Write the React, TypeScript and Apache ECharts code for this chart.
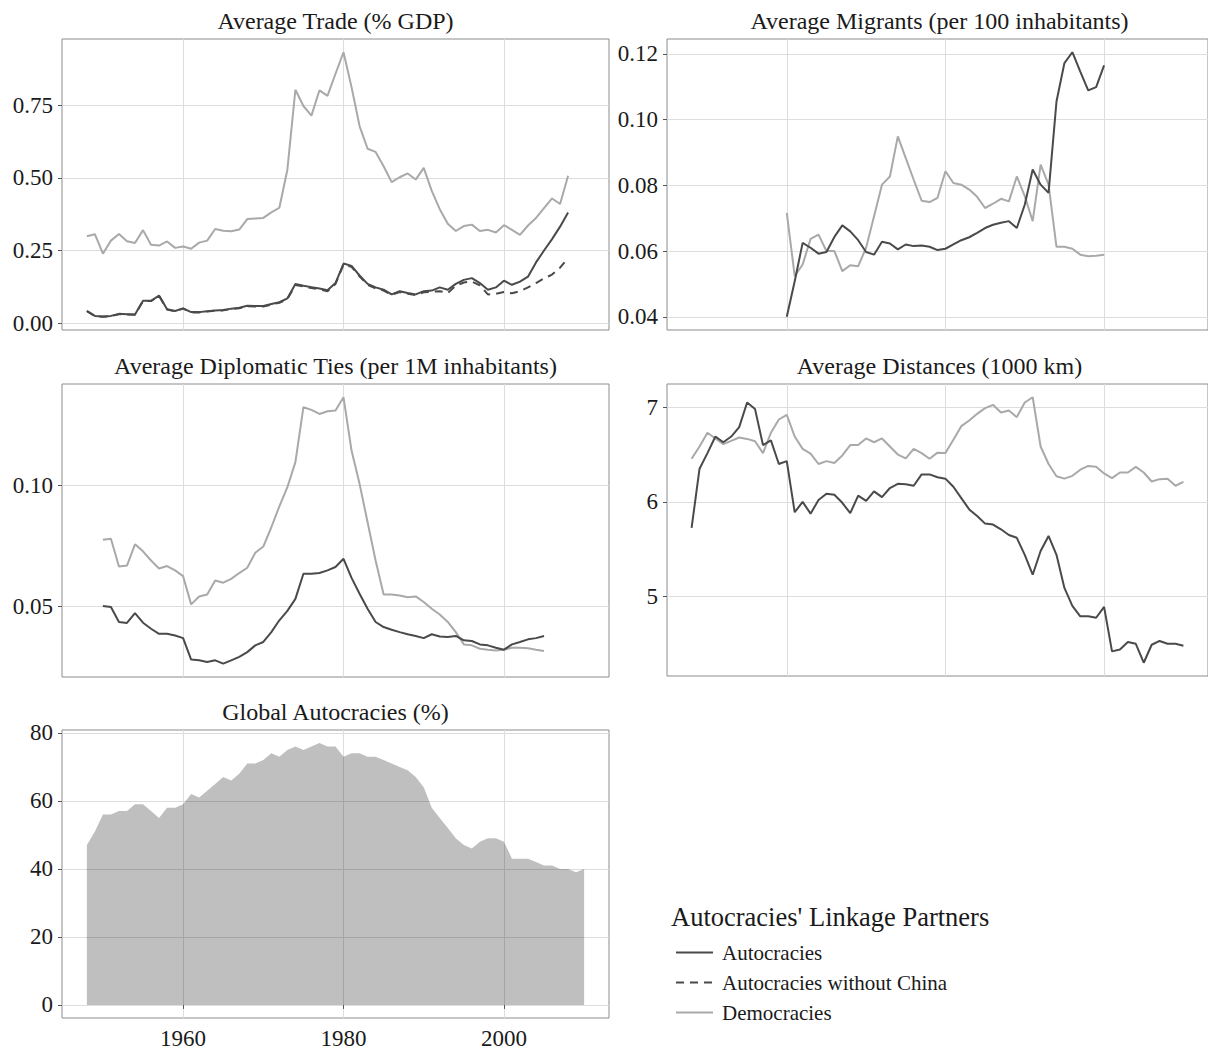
import React, { useEffect, useRef } from "react";
import * as echarts from "echarts";

// ---- data (one value per year, starting at the given year) ----
const tradeStart = 1948;
const tradeDemocracies = [
  0.299, 0.306, 0.239, 0.284, 0.307, 0.282, 0.276, 0.32, 0.27, 0.267,
  0.281, 0.259, 0.264, 0.256, 0.277, 0.284, 0.324, 0.318, 0.316, 0.322,
  0.358, 0.36, 0.362, 0.381, 0.397, 0.528, 0.803, 0.747, 0.714, 0.801,
  0.782, 0.858, 0.932, 0.812, 0.678, 0.6, 0.589, 0.54, 0.485, 0.502,
  0.515, 0.494, 0.534, 0.455, 0.392, 0.342, 0.317, 0.334, 0.339, 0.317,
  0.321, 0.312, 0.337, 0.321, 0.304, 0.336, 0.362, 0.396, 0.429, 0.41,
  0.507,
];
const tradeAutocracies = [
  0.042, 0.025, 0.023, 0.025, 0.032, 0.031, 0.03, 0.077, 0.077, 0.095,
  0.048, 0.042, 0.051, 0.038, 0.038, 0.041, 0.044, 0.045, 0.05, 0.053,
  0.06, 0.059, 0.059, 0.066, 0.072, 0.085, 0.135, 0.129, 0.124, 0.119,
  0.113, 0.138, 0.205, 0.197, 0.164, 0.135, 0.123, 0.115, 0.099, 0.11,
  0.104, 0.099, 0.11, 0.112, 0.123, 0.115, 0.135, 0.149, 0.155, 0.138,
  0.115, 0.123, 0.146, 0.132, 0.143, 0.16, 0.209, 0.25, 0.289, 0.332,
  0.381,
];
const tradeAutocraciesNoChina = [
  0.041, 0.024, 0.022, 0.024, 0.031, 0.03, 0.029, 0.076, 0.076, 0.094,
  0.047, 0.041, 0.05, 0.037, 0.037, 0.04, 0.043, 0.044, 0.048, 0.051,
  0.058, 0.057, 0.057, 0.064, 0.07, 0.083, 0.131, 0.126, 0.121, 0.116,
  0.11, 0.135, 0.201, 0.194, 0.161, 0.132, 0.12, 0.112, 0.097, 0.107,
  0.101, 0.097, 0.106, 0.108, 0.11, 0.104, 0.129, 0.14, 0.143, 0.13,
  0.099, 0.101, 0.107, 0.103, 0.11, 0.123, 0.138, 0.154, 0.167, 0.191,
  0.224,
];

const migrantsStart = 1960;
const migrantsDemocracies = [
  0.0716, 0.0524, 0.0559, 0.0637, 0.065, 0.06, 0.06, 0.0539, 0.0557, 0.0554,
  0.061, 0.0706, 0.0802, 0.0827, 0.0949, 0.0883, 0.0817, 0.0753, 0.0749, 0.0762,
  0.0843, 0.0807, 0.0802, 0.0787, 0.0765, 0.0731, 0.0744, 0.0759, 0.0751, 0.0827,
  0.0767, 0.0691, 0.0863, 0.0802, 0.0613, 0.0613, 0.0607, 0.0589, 0.0584, 0.0586,
  0.0589,
];
const migrantsAutocracies = [
  0.04, 0.0508, 0.0625, 0.061, 0.0592, 0.0597, 0.0643, 0.0678, 0.066, 0.0633,
  0.0597, 0.0589, 0.0628, 0.0623, 0.0605, 0.062, 0.0615, 0.0617, 0.0613, 0.0603,
  0.0607, 0.062, 0.0633, 0.0642, 0.0655, 0.067, 0.068, 0.0686, 0.0691, 0.067,
  0.0741, 0.0848, 0.0802, 0.0777, 0.1055, 0.1172, 0.1205, 0.1146, 0.1089, 0.1099,
  0.1165,
];

const diplomaticStart = 1950;
const diplomaticDemocracies = [
  0.0775, 0.0779, 0.0664, 0.0668, 0.0756, 0.0727, 0.0689, 0.0656, 0.0666, 0.0648,
  0.0624, 0.0507, 0.054, 0.0548, 0.0606, 0.0597, 0.0613, 0.0637, 0.0659, 0.0721,
  0.0747, 0.0827, 0.0914, 0.0993, 0.1097, 0.1325, 0.1314, 0.1297, 0.1308, 0.1311,
  0.1366, 0.1145, 0.1007, 0.0848, 0.0689, 0.0548, 0.0548, 0.0544, 0.0537, 0.054,
  0.0517, 0.0489, 0.0465, 0.0434, 0.0392, 0.0341, 0.0337, 0.0323, 0.0319, 0.0316,
  0.0319, 0.0327, 0.0327, 0.0325, 0.0319, 0.0314,
];
const diplomaticAutocracies = [
  0.05, 0.0496, 0.0434, 0.043, 0.0471, 0.0431, 0.0406, 0.0385, 0.0385, 0.0378,
  0.0367, 0.0278, 0.0275, 0.0268, 0.0275, 0.0261, 0.0275, 0.0289, 0.0309, 0.0337,
  0.0351, 0.0392, 0.0441, 0.048, 0.053, 0.0634, 0.0634, 0.0637, 0.0648, 0.0662,
  0.0696, 0.0617, 0.0551, 0.0489, 0.0434, 0.0413, 0.0402, 0.0392, 0.0383, 0.0376,
  0.0367, 0.0383, 0.0374, 0.0372, 0.0376, 0.0358, 0.0355, 0.0341, 0.0337, 0.0327,
  0.0319, 0.0341, 0.0351, 0.0362, 0.0367, 0.0376,
];

const distanceStart = 1948;
const distanceDemocracies = [
  6.455, 6.585, 6.73, 6.67, 6.61, 6.645, 6.68, 6.665, 6.64, 6.515,
  6.73, 6.87, 6.92, 6.69, 6.56, 6.51, 6.4, 6.43, 6.41, 6.49,
  6.6, 6.6, 6.67, 6.63, 6.67, 6.585, 6.5, 6.46, 6.56, 6.515,
  6.455, 6.52, 6.515, 6.655, 6.8, 6.86, 6.93, 6.99, 7.025, 6.945,
  6.965, 6.895, 7.05, 7.105, 6.585, 6.4, 6.27, 6.245, 6.275, 6.34,
  6.38, 6.37, 6.3, 6.25, 6.31, 6.31, 6.37, 6.31, 6.215, 6.24,
  6.245, 6.17, 6.21,
];
const distanceAutocracies = [
  5.724, 6.35, 6.515, 6.69, 6.63, 6.69, 6.79, 7.05, 6.98, 6.6,
  6.65, 6.4, 6.43, 5.89, 6.0, 5.875, 6.02, 6.085, 6.075, 5.99,
  5.88, 6.065, 6.01, 6.11, 6.05, 6.146, 6.19, 6.185, 6.17, 6.29,
  6.29, 6.26, 6.245, 6.16, 6.04, 5.92, 5.85, 5.77, 5.76, 5.71,
  5.65, 5.62, 5.44, 5.23, 5.48, 5.64, 5.44, 5.09, 4.9, 4.79,
  4.79, 4.775, 4.89, 4.42, 4.44, 4.52, 4.5, 4.3, 4.49, 4.53,
  4.5, 4.5, 4.48,
];

const autocracyShareStart = 1948;
const autocracyShare = [
  47, 51, 56, 56, 57, 57, 59, 59, 57, 55,
  58, 58, 59, 62, 61, 63, 65, 67, 66, 68,
  71, 71, 72, 74, 73, 75, 76, 75, 76, 77,
  76, 76, 73, 74, 74, 73, 73, 72, 71, 70,
  69, 67, 64, 58, 55, 52, 49, 47, 46, 48,
  49, 49, 48, 43, 43, 43, 42, 41, 41, 40,
  40, 39, 40,
];

// ---- tick values ----
const yearTicks = [1960, 1980, 2000];
const tradeTicks = [0, 0.25, 0.5, 0.75];
const migrantsTicks = [0.04, 0.06, 0.08, 0.1, 0.12];
const diplomaticTicks = [0.05, 0.1];
const distanceTicks = [5, 6, 7];
const shareTicks = [0, 20, 40, 60, 80];

const SERIF = "'Liberation Serif', 'DejaVu Serif', serif";
const DARK = "#4a4a4a";
const LIGHT = "#a9a9a9";
const TEXT = "#1a1a1a";

const toPairs = (start: number, values: number[]) =>
  values.map((v, i) => [start + i, v]);

// range padded by 5% on each side
const padded = (values: number[]) => {
  const lo = Math.min(...values);
  const hi = Math.max(...values);
  const pad = (hi - lo) * 0.05;
  return [lo - pad, hi + pad];
};

const allYears = [
  tradeStart,
  tradeStart + tradeDemocracies.length - 1,
  distanceStart,
  distanceStart + distanceAutocracies.length - 1,
  autocracyShareStart,
  autocracyShareStart + autocracyShare.length - 1,
];
const [xMin, xMax] = padded(allYears);

const panels = [
  { title: "Average Trade (% GDP)", left: 62, top: 39, width: 547, height: 291, ticks: tradeTicks, digits: 2,
    range: padded([...tradeDemocracies, ...tradeAutocracies, ...tradeAutocraciesNoChina]), xLabels: false },
  { title: "Average Migrants (per 100 inhabitants)", left: 667, top: 39, width: 545, height: 291, ticks: migrantsTicks, digits: 2,
    range: padded([...migrantsDemocracies, ...migrantsAutocracies]), xLabels: false },
  { title: "Average Diplomatic Ties (per 1M inhabitants)", left: 62, top: 384, width: 547, height: 293, ticks: diplomaticTicks, digits: 2,
    range: padded([...diplomaticDemocracies, ...diplomaticAutocracies]), xLabels: false },
  { title: "Average Distances (1000 km)", left: 667, top: 384, width: 545, height: 292, ticks: distanceTicks, digits: 0,
    range: padded([...distanceDemocracies, ...distanceAutocracies]), xLabels: false },
  { title: "Global Autocracies (%)", left: 62, top: 730, width: 547, height: 291, ticks: shareTicks, digits: 0,
    range: padded([0, ...autocracyShare]), xLabels: true },
];

function buildOption() {
  const grid = panels.map((p) => ({
    left: p.left,
    top: p.top,
    width: p.width,
    height: p.height,
    show: true,
    borderColor: "#8c8c8c",
    borderWidth: 1,
    backgroundColor: "transparent",
  }));

  const xAxis = panels.map((p, i) => ({
    type: "value",
    gridIndex: i,
    min: xMin,
    max: xMax,
    axisLine: { show: false },
    axisTick: {
      show: p.xLabels,
      customValues: yearTicks,
      length: 4,
      lineStyle: { color: "#555", width: 1 },
    },
    axisLabel: {
      show: p.xLabels,
      customValues: yearTicks,
      margin: 9,
      fontSize: 23,
      fontFamily: SERIF,
      color: TEXT,
      formatter: (v: number) => String(v),
    },
    splitLine: { show: true, lineStyle: { color: "#dddddd", width: 1 } },
  }));

  const yAxis = panels.map((p, i) => ({
    type: "value",
    gridIndex: i,
    min: p.range[0],
    max: p.range[1],
    axisLine: { show: false },
    axisTick: {
      show: true,
      customValues: p.ticks,
      length: 4,
      lineStyle: { color: "#555", width: 1 },
    },
    axisLabel: {
      customValues: p.ticks,
      margin: 9,
      fontSize: 23,
      fontFamily: SERIF,
      color: TEXT,
      formatter: (v: number) => v.toFixed(p.digits),
    },
    splitLine: { show: true, lineStyle: { color: "#dddddd", width: 1 } },
  }));

  const line = (name: string, idx: number, data: number[][], color: string, dashed = false) => ({
    name,
    type: "line",
    xAxisIndex: idx,
    yAxisIndex: idx,
    data,
    showSymbol: false,
    symbol: "none",
    smooth: false,
    lineStyle: { color, width: 2, type: dashed ? [8, 6] : "solid" },
    itemStyle: { color },
    silent: true,
  });

  const series: any[] = [
    line("Democracies", 0, toPairs(tradeStart, tradeDemocracies), LIGHT),
    line("Autocracies without China", 0, toPairs(tradeStart, tradeAutocraciesNoChina), DARK, true),
    line("Autocracies", 0, toPairs(tradeStart, tradeAutocracies), DARK),
    line("Democracies", 1, toPairs(migrantsStart, migrantsDemocracies), LIGHT),
    line("Autocracies", 1, toPairs(migrantsStart, migrantsAutocracies), DARK),
    line("Democracies", 2, toPairs(diplomaticStart, diplomaticDemocracies), LIGHT),
    line("Autocracies", 2, toPairs(diplomaticStart, diplomaticAutocracies), DARK),
    line("Democracies", 3, toPairs(distanceStart, distanceDemocracies), LIGHT),
    line("Autocracies", 3, toPairs(distanceStart, distanceAutocracies), DARK),
    {
      name: "Global Autocracies",
      type: "line",
      xAxisIndex: 4,
      yAxisIndex: 4,
      data: toPairs(autocracyShareStart, autocracyShare),
      showSymbol: false,
      symbol: "none",
      lineStyle: { width: 0 },
      areaStyle: { color: "#000000", opacity: 0.25, origin: "auto" },
      silent: true,
    },
  ];

  const titles = panels.map((p) => ({
    type: "text",
    x: p.left + p.width / 2,
    y: p.top - 18,
    silent: true,
    style: {
      text: p.title,
      font: `24px ${SERIF}`,
      fill: TEXT,
      textAlign: "center",
      textVerticalAlign: "middle",
    },
  }));

  return {
    animation: false,
    backgroundColor: "#ffffff",
    grid,
    xAxis,
    yAxis,
    series,
    legend: {
      orient: "vertical",
      left: 675,
      top: 942,
      padding: 0,
      itemWidth: 37,
      itemHeight: 20,
      itemGap: 9,
      selectedMode: false,
      itemStyle: { opacity: 0, borderWidth: 0 },
      data: ["Autocracies", "Autocracies without China", "Democracies"],
      textStyle: {
        fontSize: 21,
        fontFamily: SERIF,
        color: TEXT,
        lineHeight: 20,
        padding: [0, 0, 0, 4],
      },
    },
    graphic: [
      ...titles,
      {
        type: "text",
        x: 671,
        y: 917,
        silent: true,
        style: {
          text: "Autocracies' Linkage Partners",
          font: `26.5px ${SERIF}`,
          fill: TEXT,
          textAlign: "left",
          textVerticalAlign: "middle",
        },
      },
    ],
  };
}

export default function App() {
  const ref = useRef<HTMLDivElement>(null);
  useEffect(() => {
    if (!ref.current) return;
    const chart = echarts.init(ref.current, undefined, { renderer: "svg" });
    chart.setOption(buildOption() as any);
    return () => chart.dispose();
  }, []);
  return (
    <div
      ref={ref}
      style={{ position: "absolute", left: 0, top: 0, width: 1208, height: 1050, background: "#fff" }}
    />
  );
}
